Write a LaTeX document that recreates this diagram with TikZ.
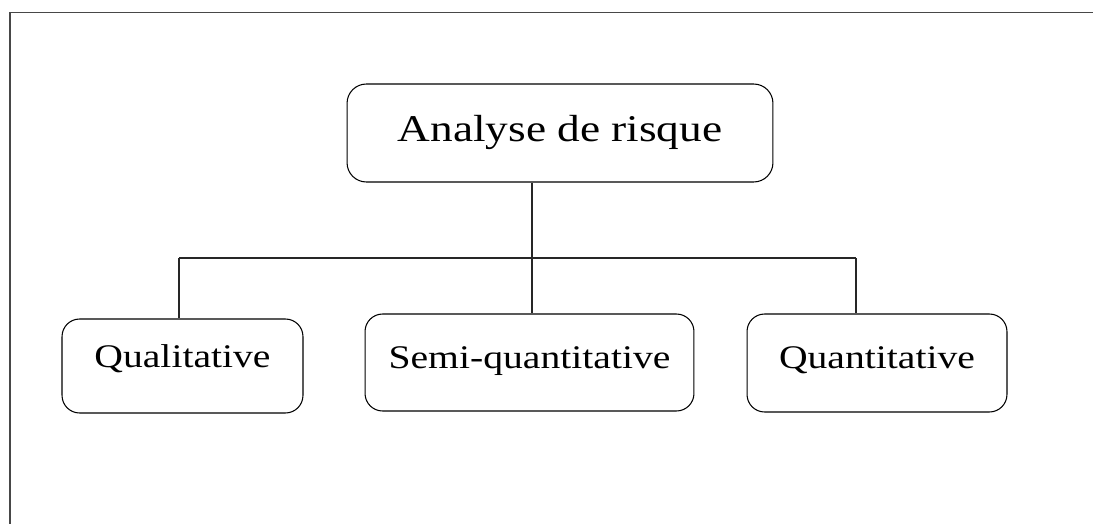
\documentclass[tikz,border=0pt]{standalone}
\usepackage{fontspec}
\newfontfamily\boxfont[FakeStretch=1.2]{Liberation Serif}
\usepackage{tikz}
\usetikzlibrary{calc}

\begin{document}
\begin{tikzpicture}[x=0.02cm,y=-0.02cm,
		typebox/.style={draw=black,line width=0.6pt,rounded corners=10pt,inner sep=0pt,
			font=\boxfont\fontsize{18.8}{22}\selectfont,text height=0.44cm,text depth=0.22cm},
		topbox/.style={typebox,rounded corners=11pt,
			font=\boxfont\fontsize{21.5}{26}\selectfont,text height=0.5cm,text depth=0.14cm},
		link/.style={draw=black!85,line width=0.6pt}]
	\useasboundingbox (0,0) rectangle (1093,524);
	
	% Outer frame (only top and left edges visible)
	\draw[black!72,line width=1.1pt] (10,524) -- (10,12.5) -- (1093,12.5);
	
	% Root
	\node[topbox,minimum width=8.52cm,minimum height=1.96cm] (analyse) at (560,133) {Analyse de risque};
	
	% Three kinds of analysis
	\node[typebox,minimum width=4.82cm,minimum height=1.88cm,text depth=0.40cm] (quali) at (182.5,366) {Qualitative};
	\node[typebox,minimum width=6.58cm,minimum height=1.94cm] (semi) at (529.5,362.5) {Semi-quantitative};
	\node[typebox,minimum width=5.2cm,minimum height=1.96cm] (quanti) at (877,363) {Quantitative};
	
	% Branching bus
	\coordinate (busL) at (179,258);
	\coordinate (hub) at (532,258);
	\coordinate (busR) at (856,258);
	\draw[link] (busL) -- (busR);
	\draw[link] (analyse.south -| hub) -- (semi.north -| hub);
	\draw[link] (busL) -- (quali.north -| busL);
	\draw[link] (busR) -- (quanti.north -| busR);
	
\end{tikzpicture}
\end{document}
